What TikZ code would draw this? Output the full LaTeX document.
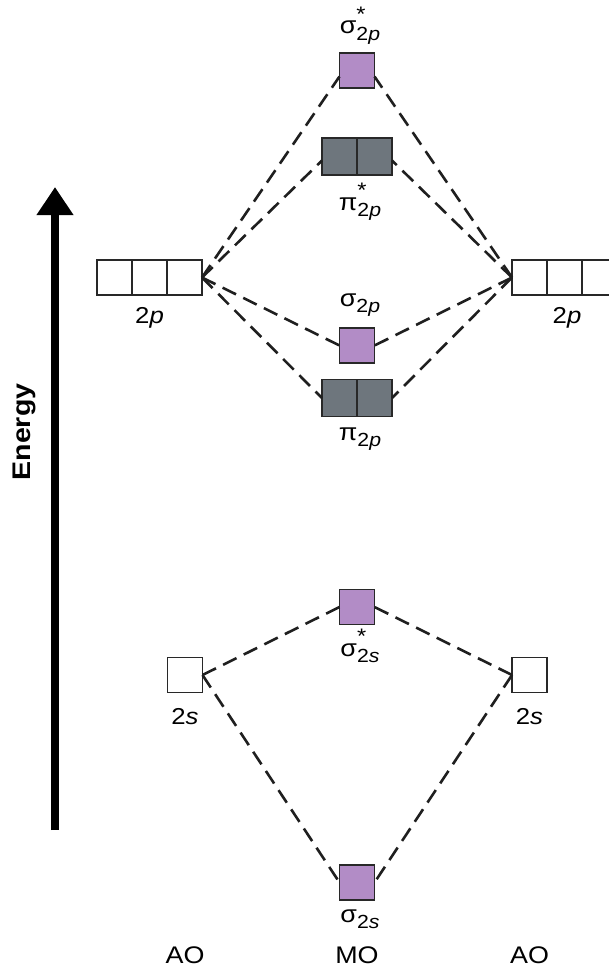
\documentclass[tikz,border=0pt]{standalone}
\usepackage{fontspec}
\setmainfont[FakeStretch=1.12]{Liberation Sans}
\usetikzlibrary{arrows.meta}
\newcommand{\mosub}[2]{{\fontsize{24}{24}\selectfont #1}\raisebox{-0.3em}{\fontsize{19}{19}\selectfont #2}}
\newcommand{\mostar}[2]{{\fontsize{24}{24}\selectfont #1}\rlap{\raisebox{0.56em}{\fontsize{21}{21}\selectfont *}}\raisebox{-0.3em}{\fontsize{19}{19}\selectfont #2}}
\definecolor{mopurple}{RGB}{178,140,198}
\definecolor{mogrey}{RGB}{110,118,125}
\definecolor{moedge}{RGB}{40,40,40}
\tikzset{
  orb/.style={draw=moedge, line width=1.5pt, minimum width=35pt, minimum height=35pt, inner sep=0pt, outer sep=0pt, fill=white},
  sorb/.style={orb, fill=mopurple},
  porb/.style={orb, fill=mogrey, minimum width=35pt, minimum height=37pt},
  lbl/.style={font=\fontsize{23}{23}\selectfont, inner sep=0pt, anchor=base},
  conn/.style={line width=2.6pt, dash pattern=on 15pt off 8pt, draw=black!88},
}
\begin{document}
\begin{tikzpicture}[x=1pt,y=-1pt]
\clip (0,0) rectangle (609,971);
\fill[white] (0,0) rectangle (609,971);
% Energy arrow
\coordinate (eb) at (55,830);
\coordinate (et) at (55,187);
\draw[line width=8pt, -{Triangle[width=35pt,length=28pt]}] (eb) -- (et);
\node[font=\bfseries\fontsize{25.5}{25.5}\selectfont, rotate=90] (energy) at (24,432) {Energy};
% 2p atomic orbitals
\node[orb] (pl1) at (114.5,277.5) {};
\node[orb] (pl2) at (149.5,277.5) {};
\node[orb] (pl3) at (184.5,277.5) {};
\node[orb] (pr1) at (529.5,277.5) {};
\node[orb] (pr2) at (564.5,277.5) {};
\node[orb] (pr3) at (599.5,277.5) {};
\node[lbl] (pll) at (149.5,323) {2\textit{p}};
\node[lbl] (prl) at (567,323) {2\textit{p}};
% MO 2p
\node[sorb] (ss2p) at (357,70.5) {};
\node[porb] (ps2pa) at (339.5,156.5) {};
\node[porb] (ps2pb) at (374.5,156.5) {};
\node[sorb] (s2p) at (357,345.5) {};
\node[porb] (p2pa) at (339.5,398) {};
\node[porb] (p2pb) at (374.5,398) {};
\node[lbl] (ss2pl) at (360,34) {\mostar{σ}{2\textit{p}}};
\node[lbl] (ps2pl) at (360,210) {\mostar{π}{2\textit{p}}};
\node[lbl] (s2pl) at (360,306) {\mosub{σ}{2\textit{p}}};
\node[lbl] (p2pl) at (360,440) {\mosub{π}{2\textit{p}}};
% 2s
\node[orb] (sl) at (185,675) {};
\node[orb] (sr) at (529.5,675) {};
\node[lbl] (sll) at (185,724) {2\textit{s}};
\node[lbl] (srl) at (529.5,724) {2\textit{s}};
\node[sorb] (ss2s) at (357,607) {};
\node[sorb] (s2s) at (357,882.5) {};
\node[lbl] (ss2sl) at (360,656) {\mostar{σ}{2\textit{s}}};
\node[lbl] (s2sl) at (360,922) {\mosub{σ}{2\textit{s}}};
% bottom labels
\node[lbl, font=\fontsize{24}{24}\selectfont] (aol) at (185,963) {AO};
\node[lbl, font=\fontsize{24}{24}\selectfont] (mo) at (357,963) {MO};
\node[lbl, font=\fontsize{24}{24}\selectfont] (aor) at (529.5,963) {AO};
% connectors
\draw[conn] (pl3.east) -- ([yshift=-6pt]ss2p.west);
\draw[conn] (pl3.east) -- ([yshift=-4pt]ps2pa.west);
\draw[conn] (pl3.east) -- (s2p.west);
\draw[conn] (pl3.east) -- (p2pa.west);
\draw[conn] (pr1.west) -- ([yshift=-6pt]ss2p.east);
\draw[conn] (pr1.west) -- ([yshift=-4pt]ps2pb.east);
\draw[conn] (pr1.west) -- (s2p.east);
\draw[conn] (pr1.west) -- (p2pb.east);
\draw[conn] (sl.east) -- (ss2s.west);
\draw[conn] (sl.east) -- (s2s.west);
\draw[conn] (sr.west) -- (ss2s.east);
\draw[conn] (sr.west) -- (s2s.east);
\end{tikzpicture}
\end{document}
